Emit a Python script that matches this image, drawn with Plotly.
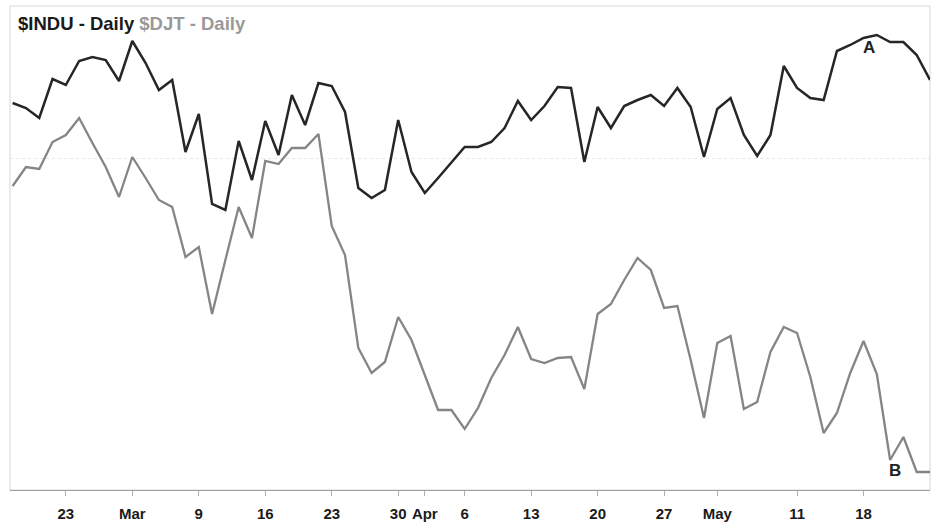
import plotly.graph_objects as go

# trading-day index, Feb 23 = 0
day_index = list(range(-4, 66))

indu_close = [
    18018, 17998, 17958, 18114, 18090, 18186, 18202, 18190, 18106, 18266,
    18178, 18070, 18110, 17822, 17974, 17614, 17590, 17866, 17710, 17946,
    17810, 18050, 17930, 18098, 18086, 17982, 17678, 17638, 17670, 17950,
    17742, 17658, 17718, 17778, 17842, 17842, 17862, 17918, 18026, 17950,
    18006, 18082, 18078, 17782, 18002, 17918, 18006, 18030, 18050, 18006,
    18078, 18002, 17802, 17994, 18038, 17890, 17806, 17890, 18166, 18078,
    18038, 18030, 18226, 18250, 18278, 18290, 18262, 18262, 18210, 18110,
]

djt_close = [
    8928, 8966, 8962, 9016, 9030, 9064, 9014, 8966, 8906, 8986,
    8944, 8900, 8886, 8786, 8806, 8672, 8780, 8886, 8824, 8978,
    8972, 9004, 9004, 9032, 8848, 8790, 8604, 8554, 8576, 8666,
    8620, 8550, 8480, 8480, 8442, 8484, 8544, 8590, 8646, 8582,
    8574, 8584, 8586, 8522, 8672, 8692, 8740, 8784, 8760, 8684,
    8688, 8580, 8464, 8614, 8628, 8482, 8496, 8596, 8646, 8634,
    8546, 8434, 8474, 8554, 8618, 8552, 8380, 8426, 8356, 8356,
]

tick_days = [0, 5, 10, 15, 20, 25, 27, 30, 35, 40, 45, 49, 55, 60]
tick_labels = ["23", "Mar", "9", "16", "23", "30", "Apr", "6", "13", "20", "27", "May", "11", "18"]
month_days = [27, 49]

FONT = "Liberation Sans, Arial, sans-serif"

fig = go.Figure()

fig.add_trace(go.Scatter(
    x=day_index, y=djt_close, mode="lines", name="$DJT",
    line=dict(color="#858585", width=2.3), yaxis="y2"
))
fig.add_trace(go.Scatter(
    x=day_index, y=indu_close, mode="lines", name="$INDU",
    line=dict(color="#262626", width=2.5)
))

fig.add_annotation(x=60.4, y=18242, xref="x", yref="y", text="<b>A</b>",
                   showarrow=False, font=dict(size=17, color="#222", family=FONT))
fig.add_annotation(x=62.4, y=8360, xref="x", yref="y2", text="<b>B</b>",
                   showarrow=False, font=dict(size=17, color="#222", family=FONT))

fig.add_annotation(
    x=0, y=1, xref="paper", yref="paper", xanchor="left", yanchor="top",
    xshift=6, yshift=-5, showarrow=False, align="left",
    text="<b><span style='color:#1a1a1a'>$INDU - Daily</span> "
         "<span style='color:#999'>$DJT - Daily</span></b>",
    font=dict(size=18.5, family=FONT),
)

fig.add_shape(type="rect", xref="paper", yref="paper", x0=0, x1=1, y0=0, y1=1,
              line=dict(color="#d6d6d6", width=1), layer="below")

fig.update_layout(
    width=931, height=526,
    margin=dict(l=10, r=1, t=6, b=36),
    plot_bgcolor="white", paper_bgcolor="white",
    showlegend=False,
    font=dict(family=FONT, color="#1a1a1a"),
    xaxis=dict(
        range=[-4.2, 65], tickvals=tick_days, ticktext=tick_labels,
        showgrid=False, zeroline=False,
        showline=True, linecolor="#a0a0a0", linewidth=1,
        ticks="outside", ticklen=5, tickcolor="#b0b0b0",
        tickfont=dict(size=15, color="#1a1a1a", family=FONT, weight="bold"),
        ticklabelstandoff=5,
    ),
    xaxis2=dict(
        range=[-4.2, 65], overlaying="x", side="bottom", anchor="y",
        tickvals=month_days, showticklabels=False, showgrid=False, zeroline=False,
        ticks="outside", ticklen=8, tickcolor="#888",
    ),
    yaxis=dict(
        range=[16470, 18406], tickvals=[17798], showticklabels=False,
        showgrid=True, gridcolor="#e6e6e6", griddash="dot", gridwidth=1,
        zeroline=False, showline=False,
    ),
    yaxis2=dict(
        range=[8320, 9288], overlaying="y", showticklabels=False,
        showgrid=False, zeroline=False, showline=False,
    ),
)

fig.write_html("out.html", config={"displayModeBar": False},
               post_script="document.body.style.margin='0';")
